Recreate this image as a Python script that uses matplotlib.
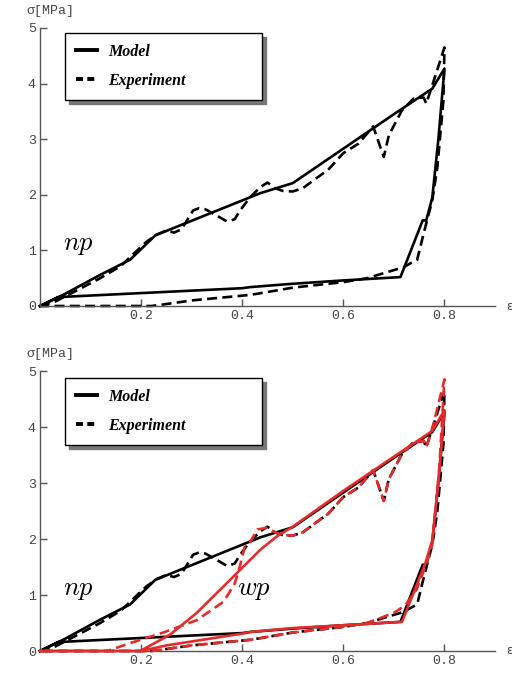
import matplotlib
matplotlib.use("Agg")
import matplotlib.pyplot as plt
from matplotlib.lines import Line2D

plt.rcParams['mathtext.fontset'] = 'cm'

# ---- data: no-prestretch (np), black ----
model_np_x = [0.0, 0.05, 0.119, 0.178, 0.228, 0.436, 0.50, 0.60, 0.70, 0.776, 0.80,
              0.788, 0.776, 0.764, 0.757, 0.713, 0.60, 0.50, 0.416, 0.40, 0.036, 0.0]
model_np_y = [0.0, 0.22, 0.56, 0.83, 1.27, 2.03, 2.21, 2.83, 3.45, 3.91, 4.27,
              3.0, 1.95, 1.54, 1.54, 0.52, 0.46, 0.40, 0.34, 0.32, 0.16, 0.0]

exp_np_x = [0.0, 0.03, 0.06, 0.119, 0.16, 0.19, 0.21, 0.23, 0.25, 0.265, 0.28, 0.303,
            0.315, 0.327, 0.345, 0.37, 0.385, 0.396, 0.415, 0.436, 0.45, 0.465, 0.48,
            0.50, 0.52, 0.55, 0.57, 0.60, 0.63, 0.659, 0.68, 0.69, 0.716, 0.739,
            0.759, 0.764, 0.776, 0.80,
            0.798, 0.786, 0.776, 0.759, 0.746, 0.733, 0.72, 0.647, 0.60, 0.50,
            0.436, 0.416, 0.30, 0.238, 0.22, 0.0]
exp_np_y = [0.0, 0.08, 0.22, 0.50, 0.72, 0.98, 1.15, 1.28, 1.36, 1.32, 1.38, 1.72,
            1.76, 1.74, 1.65, 1.52, 1.56, 1.72, 1.95, 2.14, 2.22, 2.12, 2.07,
            2.06, 2.12, 2.32, 2.45, 2.75, 2.92, 3.23, 2.68, 3.07, 3.52, 3.73,
            3.75, 3.64, 3.97, 4.65,
            3.70, 2.50, 1.90, 1.31, 0.83, 0.77, 0.70, 0.50, 0.43, 0.33,
            0.23, 0.20, 0.10, 0.02, 0.0, 0.0]

# ---- data: with-prestretch (wp), red ----
model_wp_x = [0.0, 0.198, 0.257, 0.31, 0.376, 0.436, 0.469, 0.50, 0.60, 0.70, 0.776, 0.80,
              0.788, 0.776, 0.762, 0.716, 0.60, 0.50, 0.416, 0.40, 0.30, 0.25, 0.20]
model_wp_y = [0.0, 0.0, 0.29, 0.68, 1.27, 1.81, 2.05, 2.22, 2.86, 3.47, 3.93, 4.30,
              3.0, 1.98, 1.56, 0.52, 0.46, 0.41, 0.34, 0.31, 0.17, 0.10, 0.0]

exp_wp_x = [0.0, 0.133, 0.178, 0.244, 0.31, 0.363, 0.385, 0.395, 0.405, 0.416, 0.43,
            0.448, 0.465, 0.48, 0.50, 0.52, 0.55, 0.57, 0.60, 0.63, 0.659, 0.68, 0.69,
            0.716, 0.739, 0.759, 0.764, 0.776, 0.80,
            0.79, 0.776, 0.762, 0.745, 0.723, 0.70, 0.647, 0.60, 0.50, 0.436, 0.416,
            0.30, 0.238, 0.22, 0.0]
exp_wp_y = [0.0, 0.0, 0.14, 0.33, 0.55, 0.88, 1.20, 1.50, 1.86, 1.95, 2.17,
            2.20, 2.12, 2.07, 2.06, 2.12, 2.32, 2.45, 2.75, 2.92, 3.23, 2.68, 3.07,
            3.52, 3.73, 3.75, 3.64, 3.97, 4.85,
            3.30, 1.90, 1.50, 1.10, 0.82, 0.68, 0.50, 0.43, 0.33, 0.23, 0.20,
            0.10, 0.02, 0.0, 0.0]

x_ticks = [0.2, 0.4, 0.6, 0.8]
x_tick_labels = ['0.2', '0.4', '0.6', '0.8']
y_ticks = [0, 1, 2, 3, 4, 5]
y_tick_labels = ['0', '1', '2', '3', '4', '5']

RED = '#e52b2b'
SPINE = '#555555'
LW = 1.9
DASH = (0, (3.8, 2.0))

fig = plt.figure(figsize=(5.12, 6.75), dpi=100)
ax1 = fig.add_axes([40/512, 1-306/675, 455/512, 278/675])
ax2 = fig.add_axes([40/512, 1-651/675, 455/512, 280/675])


def style(ax, legend_top_px):
    ax.set_xlim(0, 0.9)
    ax.set_ylim(0, 5)
    for s in ['top', 'right']:
        ax.spines[s].set_visible(False)
    for s in ['left', 'bottom']:
        ax.spines[s].set_color(SPINE)
        ax.spines[s].set_linewidth(1.0)
    ax.set_xticks(x_ticks)
    ax.set_xticklabels(x_tick_labels)
    ax.set_yticks(y_ticks)
    ax.set_yticklabels(y_tick_labels)
    ax.tick_params(direction='in', length=5, width=1.0, color=SPINE,
                   labelcolor='#444444', labelsize=9.5, pad=3)
    for lab in ax.get_xticklabels() + ax.get_yticklabels():
        lab.set_fontfamily('Liberation Mono')
    ax.text(-0.03, 1.04, 'σ[MPa]', transform=ax.transAxes, ha='left', va='bottom',
            fontsize=9.5, family='Liberation Mono', color='#444444')
    ax.text(1.025, 0.0, 'ε', transform=ax.transAxes, ha='left', va='center',
            fontsize=9, color='#444444', clip_on=False)
    handles = [Line2D([], [], color='black', lw=2.8),
               Line2D([], [], color='black', lw=2.8, ls=(0, (1.8, 1.1)))]
    leg = ax.legend(handles, ['Model', 'Experiment'],
                    loc='upper left',
                    bbox_to_anchor=(65/512, 1-legend_top_px/675, 197/512, 0.0),
                    bbox_transform=fig.transFigure, mode='expand', borderaxespad=0.0,
                    prop={'family': 'Liberation Serif', 'weight': 'bold',
                          'style': 'italic', 'size': 11.5},
                    handlelength=1.3, handletextpad=0.7, labelspacing=0.8,
                    borderpad=0.68, fancybox=False,
                    shadow={'color': '#777777', 'alpha': 1.0, 'ox': 3, 'oy': -3},
                    framealpha=1.0, edgecolor='black')
    leg.get_frame().set_linewidth(1.0)


# top panel
ax1.plot(model_np_x, model_np_y, color='black', lw=LW, clip_on=False)
ax1.plot(exp_np_x, exp_np_y, color='black', lw=LW, ls=DASH, clip_on=False)
ax1.text(0.045, 1.0, r'$np$', fontsize=19)
style(ax1, 33)

# bottom panel
ax2.plot(model_np_x, model_np_y, color='black', lw=LW, clip_on=False)
ax2.plot(exp_np_x, exp_np_y, color='black', lw=LW, ls=DASH, clip_on=False)
ax2.plot(model_wp_x, model_wp_y, color=RED, lw=LW, clip_on=False, zorder=3)
ax2.plot(exp_wp_x, exp_wp_y, color=RED, lw=LW, ls=DASH, clip_on=False, zorder=3)
ax2.text(0.045, 1.0, r'$np$', fontsize=19)
ax2.text(0.39, 1.0, r'$wp$', fontsize=19)
style(ax2, 378)

fig.savefig('out.png', dpi=100)
